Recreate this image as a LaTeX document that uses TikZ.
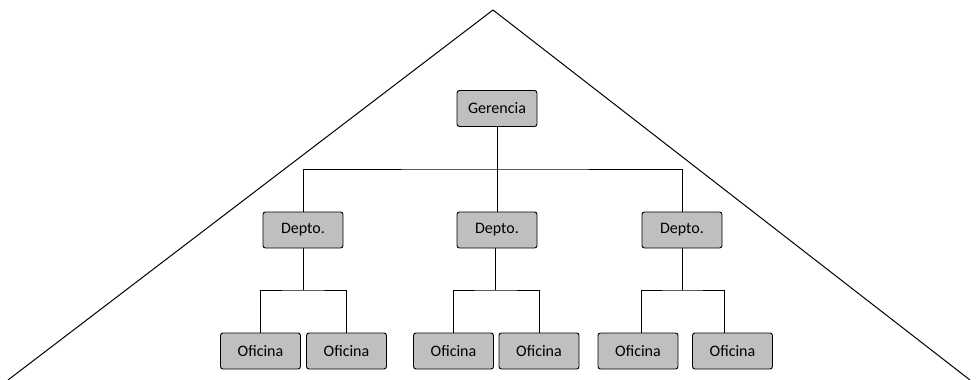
\documentclass[tikz,border=0pt]{standalone}
\usepackage{fontspec}
\setmainfont{Carlito}
\begin{document}
\begin{tikzpicture}[x=1pt,y=-1pt,
  box/.style={draw=black,line width=0.9pt,fill=boxgray,rounded corners=2.5pt,minimum width=80pt,minimum height=36pt,inner sep=0pt,font=\fontsize{16}{19}\selectfont},
  conn/.style={draw=black,line width=1pt}]
\definecolor{boxgray}{RGB}{191,191,191}
\useasboundingbox (0,0) rectangle (978,380);
% pyramid
\coordinate (apex) at (493,10);
\coordinate (bl) at (8,380);
\coordinate (br) at (970,380);
\draw[conn] (bl) -- (apex) -- (br);
% nodes
\node[box] (g) at (497,108.5) {Gerencia};
\node[box] (d1) at (303,230) {Depto.};
\node[box] (d2) at (497,230) {Depto.};
\node[box] (d3) at (682,230) {Depto.};
\node[box] (o1) at (260.5,351) {Oficina};
\node[box] (o2) at (346.5,351) {Oficina};
\node[box] (o3) at (453.5,351) {Oficina};
\node[box] (o4) at (539,351) {Oficina};
\node[box] (o5) at (638,351) {Oficina};
\node[box] (o6) at (732.5,351) {Oficina};
% connectors
\coordinate (top) at (497,169);
\draw[conn] (g.south) -- (d2.north);
\draw[conn] (d1.north) |- (top) -| (d3.north);
\coordinate (b1) at (303,290);
\coordinate (b2) at (495,290);
\coordinate (b3) at (682,290);
\draw[conn] (d1.south) -- (b1);
\draw[conn] (o1.north) |- (b1) -| (o2.north);
\draw[conn] (d2.south -| b2) -- (b2);
\draw[conn] (o3.north) |- (b2) -| (o4.north);
\draw[conn] (d3.south) -- (b3);
\draw[conn] ([xshift=3pt]o5.north) |- (b3) -| ([xshift=-8.5pt]o6.north);
\end{tikzpicture}
\end{document}
